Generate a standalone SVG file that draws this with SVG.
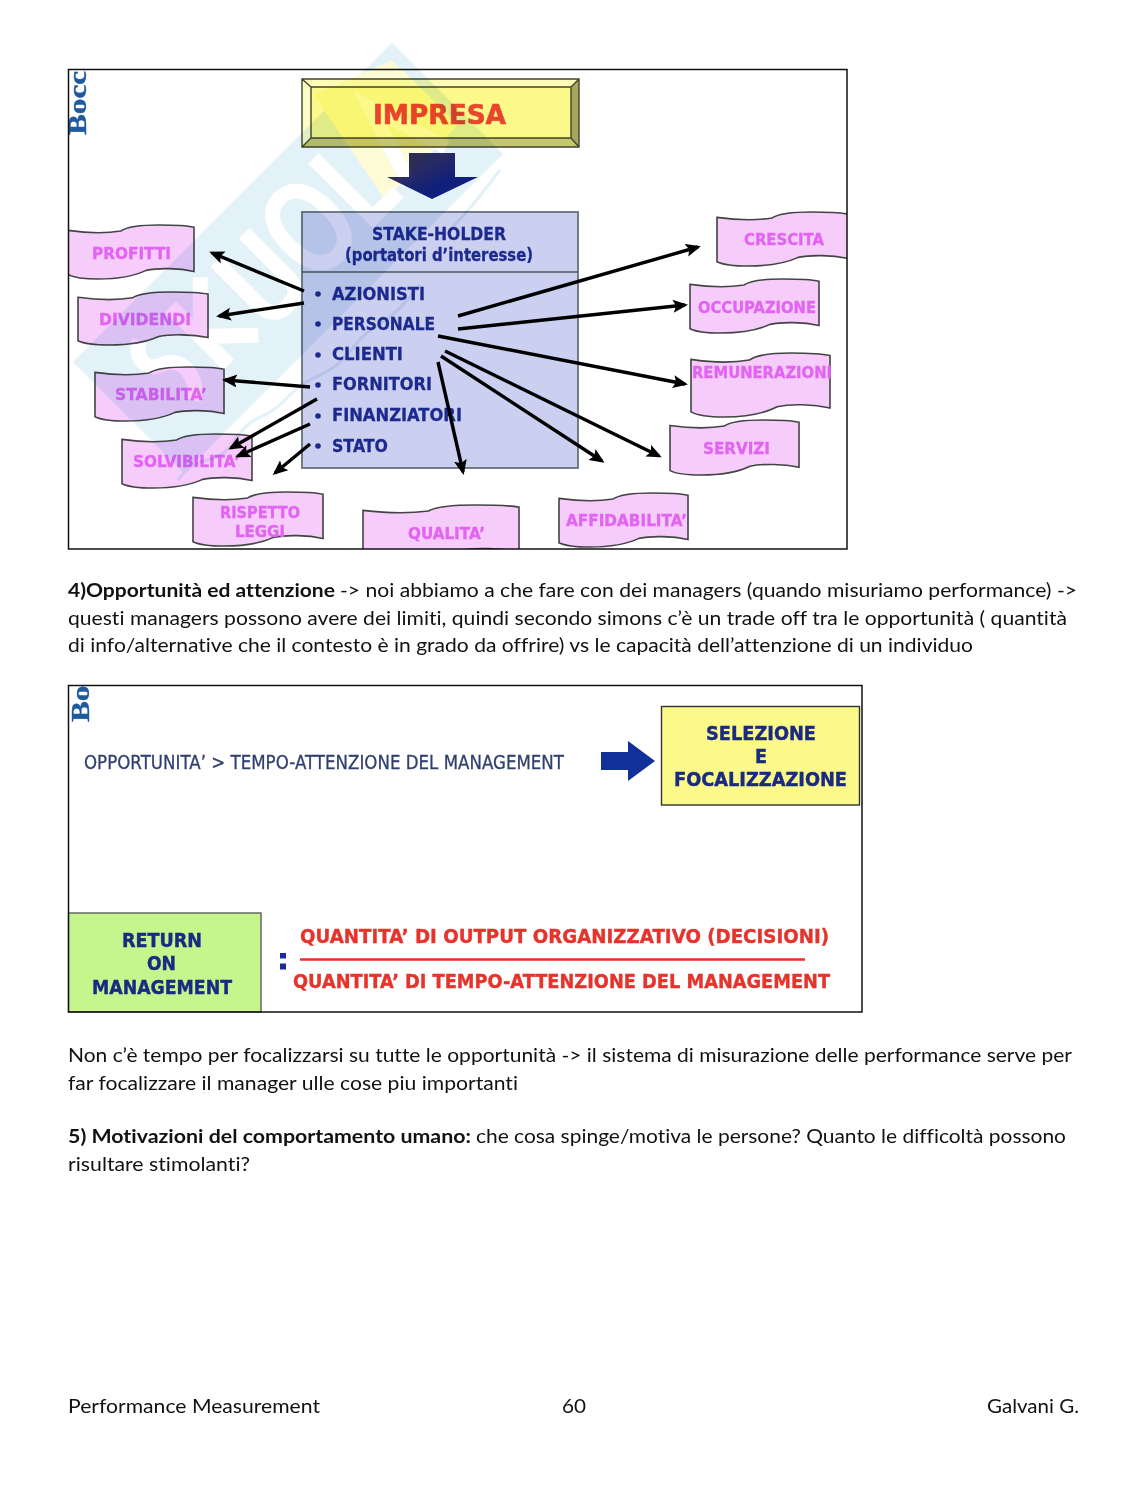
<svg xmlns="http://www.w3.org/2000/svg" width="1148" height="1485" viewBox="0 0 1148 1485">
<style>
.body{font-family:Lato,"Liberation Sans",sans-serif;font-size:19.5px;fill:#111;font-variant-ligatures:none}
.b{font-weight:700}
.s{font-family:"DejaVu Sans",Verdana,sans-serif;font-weight:700}
.flagt{font-size:16px;fill:#e264f2;stroke:#e264f2;stroke-width:.35px}
.navy{fill:#1c2a8e;font-size:17px;stroke:#1c2a8e;stroke-width:.3px}
.red{fill:#e5342c;font-size:19px;stroke:#e5342c;stroke-width:.4px}
.ret{fill:#1a2a80;font-size:19.500px;stroke:#1a2a80;stroke-width:.45px}
.logo{font-family:"Liberation Serif",serif;font-weight:700;font-size:26px;fill:#1e5aa0;stroke:#1e5aa0;stroke-width:.4px}
.conn line{stroke:#000;stroke-width:3.4;marker-end:url(#ah)}
.flag{fill:#f5ccfa;stroke:#444;stroke-width:1.6;vector-effect:non-scaling-stroke}
.frame{fill:none;stroke:#111;stroke-width:1.5}
</style>
<defs>
<marker id="ah" markerUnits="userSpaceOnUse" markerWidth="18" markerHeight="16" refX="12" refY="7" orient="auto"><path d="M0,0.500L15,7L0,13.500L3,7Z" fill="#000"/></marker>
<linearGradient id="dn" x1="0" y1="0" x2="1" y2="1"><stop offset="0.35" stop-color="#2c2c66"/><stop offset="0.65" stop-color="#10207e"/></linearGradient>
<path id="fl" class="flag" d="M0,10C18,16 32,15 42,11C47,3 58,0 72,0C84,0 94,1 100,4L100,86C88,80 72,79 62,84C54,93 40,100 24,100C14,100 5,98 0,92Z"/>
<clipPath id="c1"><rect x="68" y="69" width="779" height="480"/></clipPath>
<clipPath id="c2"><rect x="68" y="686" width="794" height="326"/></clipPath>
<mask id="wm" maskUnits="userSpaceOnUse" x="0" y="0" width="1148" height="600">
<rect width="1148" height="600" fill="#fff"/>
<g transform="translate(73,362) rotate(-45)" fill="none" stroke="#000" stroke-width="15">
<path d="M62,32C45,40 45,60 62,65C80,72 80,100 58,112"/>
<path d="M108,30V112M108,72L150,30M108,72L150,112"/>
<path d="M172,30V92Q172,112 192,112Q212,112 212,92V30"/>
<path d="M262,30Q235,32 235,71Q235,110 262,112Q289,110 289,71Q289,32 262,30Z"/>
<path d="M314,26V110H350"/>
<path d="M364,112L390,30L416,112"/>
</g>
</mask>
</defs>
<rect width="1148" height="1485" fill="#fff"/>

<g id="slide1-logo" clip-path="url(#c1)"><text class="logo" transform="translate(86,135) rotate(-90) scale(1.2,1)">Bocc</text></g>

<g id="impresa">
<rect x="302" y="79" width="277" height="68" fill="#fbf98a"/>
<path d="M302,79H579L571,87H311Z" fill="#fdfbb4"/>
<path d="M302,79L311,87V138L302,147Z" fill="#fdfdc8"/>
<path d="M579,79V147L571,138V87Z" fill="#a6a660"/>
<path d="M302,147H579L571,138H311Z" fill="#c6c670"/>
<path d="M302,79H579V147H302ZM311,87H571V138H311ZM302,79L311,87M579,79L571,87M302,147L311,138M579,147L571,138" fill="none" stroke="#44442a" stroke-width="1.4"/>
<text class="s" x="373" y="124" font-size="26" fill="#e8452c" stroke="#e8452c" stroke-width=".6" textLength="133" lengthAdjust="spacingAndGlyphs">IMPRESA</text>
</g>
<g id="down-arrow"><path d="M409,153H455V177H478L432,199L387,177H409Z" fill="url(#dn)"/></g>

<g id="stakeholder">
<rect x="302" y="212" width="276" height="256" fill="#cbcff0" stroke="#66727c" stroke-width="1.8"/>
<path d="M302,272H578" stroke="#4a5660" stroke-width="1.4"/>
<text class="s navy" x="372" y="240" textLength="134" lengthAdjust="spacingAndGlyphs">STAKE-HOLDER</text>
<text class="s navy" x="345" y="261" textLength="188" lengthAdjust="spacingAndGlyphs">(portatori d’interesse)</text>
<text class="s navy" x="332" y="300" textLength="93" lengthAdjust="spacingAndGlyphs">AZIONISTI</text>
<text class="s navy" x="332" y="330" textLength="103" lengthAdjust="spacingAndGlyphs">PERSONALE</text>
<text class="s navy" x="332" y="360" textLength="71" lengthAdjust="spacingAndGlyphs">CLIENTI</text>
<text class="s navy" x="332" y="390" textLength="100" lengthAdjust="spacingAndGlyphs">FORNITORI</text>
<text class="s navy" x="332" y="421" textLength="130" lengthAdjust="spacingAndGlyphs">FINANZIATORI</text>
<text class="s navy" x="332" y="452" textLength="56" lengthAdjust="spacingAndGlyphs">STATO</text>
<g fill="#1c2a8e"><circle cx="318" cy="294" r="2.8"/><circle cx="318" cy="324" r="2.8"/><circle cx="318" cy="355" r="2.8"/><circle cx="318" cy="385" r="2.8"/><circle cx="318" cy="416" r="2.8"/><circle cx="318" cy="446" r="2.8"/></g>
</g>

<g clip-path="url(#c1)">
<g id="flag-profitti"><use href="#fl" transform="translate(68,225) scale(1.26,.54)"/><text class="s flagt" x="92" y="259" textLength="79" lengthAdjust="spacingAndGlyphs">PROFITTI</text></g>
<g id="flag-dividendi"><use href="#fl" transform="translate(78,292) scale(1.3,.53)"/><text class="s flagt" x="99" y="325" textLength="92" lengthAdjust="spacingAndGlyphs">DIVIDENDI</text></g>
<g id="flag-stabilita"><use href="#fl" transform="translate(95,367) scale(1.29,.54)"/><text class="s flagt" x="115" y="400" textLength="92" lengthAdjust="spacingAndGlyphs">STABILITA’</text></g>
<g id="flag-solvibilita"><use href="#fl" transform="translate(122,434) scale(1.3,.54)"/><text class="s flagt" x="133" y="467" textLength="107" lengthAdjust="spacingAndGlyphs">SOLVIBILITA’</text></g>
<g id="flag-rispetto"><use href="#fl" transform="translate(193,492) scale(1.3,.54)"/><text class="s flagt" x="220" y="518" textLength="80" lengthAdjust="spacingAndGlyphs">RISPETTO</text><text class="s flagt" x="235" y="537" textLength="50" lengthAdjust="spacingAndGlyphs">LEGGI</text></g>
<g id="flag-qualita"><use href="#fl" transform="translate(363,505) scale(1.56,.54)"/><text class="s flagt" x="408" y="539" textLength="77" lengthAdjust="spacingAndGlyphs">QUALITA’</text></g>
<g id="flag-affidabilita"><use href="#fl" transform="translate(559,493) scale(1.29,.54)"/><text class="s flagt" x="566" y="526" textLength="121" lengthAdjust="spacingAndGlyphs">AFFIDABILITA’</text></g>
<g id="flag-servizi"><use href="#fl" transform="translate(670,420) scale(1.29,.55)"/><text class="s flagt" x="703" y="454" textLength="67" lengthAdjust="spacingAndGlyphs">SERVIZI</text></g>
<g id="flag-remunerazioni"><use href="#fl" transform="translate(691,353) scale(1.39,.64)"/><text class="s flagt" x="692" y="378" textLength="140" lengthAdjust="spacingAndGlyphs">REMUNERAZIONI</text></g>
<g id="flag-occupazione"><use href="#fl" transform="translate(690,279) scale(1.29,.54)"/><text class="s flagt" x="698" y="313" textLength="118" lengthAdjust="spacingAndGlyphs">OCCUPAZIONE</text></g>
<g id="flag-crescita"><use href="#fl" transform="translate(717,212) scale(1.31,.54)"/><text class="s flagt" x="744" y="245" textLength="80" lengthAdjust="spacingAndGlyphs">CRESCITA</text></g>
</g>

<g id="connectors" class="conn">
<line x1="304" y1="291" x2="212" y2="253"/>
<line x1="304" y1="303" x2="219" y2="316"/>
<line x1="310" y1="387" x2="225" y2="380"/>
<line x1="317" y1="399" x2="231" y2="448"/>
<line x1="310" y1="424" x2="238" y2="456"/>
<line x1="310" y1="444" x2="275" y2="473"/>
<line x1="458" y1="316" x2="698" y2="247"/>
<line x1="458" y1="329" x2="685" y2="305"/>
<line x1="438" y1="336" x2="685" y2="384"/>
<line x1="445" y1="351" x2="659" y2="456"/>
<line x1="441" y1="356" x2="602" y2="461"/>
<line x1="438" y1="362" x2="463" y2="472"/>
</g>

<g id="watermark" style="mix-blend-mode:multiply">
<path d="M73,362L392,43L503,154L184,473Z" fill="#e3f1f8" mask="url(#wm)"/>
<path d="M314,95L392,60L458,125L385,200Z" fill="#fdfcd6" mask="url(#wm)"/>
<path d="M178,480C200,450 215,470 235,440C255,410 262,425 290,395C315,370 330,380 355,345C375,320 385,330 420,285M440,240C455,225 470,210 500,170" fill="none" stroke="#e3f1f8" stroke-width="3"/>
</g>

<rect class="frame" x="68.500" y="69.500" width="778.500" height="479.500"/>

<g id="para1">
<text class="body b" x="68" y="597" textLength="267" lengthAdjust="spacingAndGlyphs">4)Opportunità ed attenzione</text>
<text class="body" x="340" y="597" textLength="737" lengthAdjust="spacingAndGlyphs">-&gt; noi abbiamo a che fare con dei managers (quando misuriamo performance) -&gt;</text>
<text class="body" x="68" y="625" textLength="999" lengthAdjust="spacingAndGlyphs">questi managers possono avere dei limiti, quindi secondo simons c’è un trade off tra le opportunità ( quantità</text>
<text class="body" x="68" y="652" textLength="905" lengthAdjust="spacingAndGlyphs">di info/alternative che il contesto è in grado da offrire) vs le capacità dell’attenzione di un individuo</text>
</g>

<g id="slide2-logo" clip-path="url(#c2)"><text class="logo" transform="translate(89,722) rotate(-90) scale(1.2,1)">Bo</text></g>
<g id="opportunita"><text x="84" y="769" font-family="DejaVu Sans, sans-serif" font-size="19" fill="#2f3f6f" stroke="#2f3f6f" stroke-width=".3" textLength="480" lengthAdjust="spacingAndGlyphs">OPPORTUNITA’ &gt; TEMPO-ATTENZIONE DEL MANAGEMENT</text></g>
<g id="blue-arrow"><path d="M601,752H628V741L655,761L628,781V770H601Z" fill="#10309a"/></g>
<g id="selezione">
<rect x="661.500" y="706.500" width="198" height="98.500" fill="#fbf98a" stroke="#333" stroke-width="1.4"/>
<text class="s ret" x="706" y="740" textLength="110" lengthAdjust="spacingAndGlyphs">SELEZIONE</text>
<text class="s ret" x="755" y="763" textLength="12" lengthAdjust="spacingAndGlyphs">E</text>
<text class="s ret" x="674" y="786" textLength="173" lengthAdjust="spacingAndGlyphs">FOCALIZZAZIONE</text>
</g>
<g id="return">
<rect x="68.500" y="913" width="192.500" height="99" fill="#c6f58e" stroke="#444" stroke-width="1.2"/>
<text class="s ret" x="122" y="947" textLength="80" lengthAdjust="spacingAndGlyphs">RETURN</text>
<text class="s ret" x="147" y="970" textLength="29" lengthAdjust="spacingAndGlyphs">ON</text>
<text class="s ret" x="92" y="994" textLength="140" lengthAdjust="spacingAndGlyphs">MANAGEMENT</text>
</g>
<g id="formula">
<path d="M280,953h6v5.500h-6zM280,963.500h6v6h-6z" fill="#1c2a9e"/>
<text class="s red" x="300" y="943" textLength="529" lengthAdjust="spacingAndGlyphs">QUANTITA’ DI OUTPUT ORGANIZZATIVO (DECISIONI)</text>
<path d="M300,959.500H805" stroke="#e83030" stroke-width="2.500"/>
<text class="s red" x="293" y="988" textLength="537" lengthAdjust="spacingAndGlyphs">QUANTITA’ DI TEMPO-ATTENZIONE DEL MANAGEMENT</text>
</g>
<rect class="frame" x="68.500" y="685.500" width="793.500" height="326.500"/>

<g id="para2">
<text class="body" x="68" y="1062" textLength="1004" lengthAdjust="spacingAndGlyphs">Non c’è tempo per focalizzarsi su tutte le opportunità -&gt; il sistema di misurazione delle performance serve per</text>
<text class="body" x="68" y="1090" textLength="450" lengthAdjust="spacingAndGlyphs">far focalizzare il manager ulle cose piu importanti</text>
</g>
<g id="para3">
<text class="body b" x="68" y="1143" textLength="403" lengthAdjust="spacingAndGlyphs">5) Motivazioni del comportamento umano:</text>
<text class="body" x="476" y="1143" textLength="590" lengthAdjust="spacingAndGlyphs">che cosa spinge/motiva le persone? Quanto le difficoltà possono</text>
<text class="body" x="68" y="1171" textLength="182" lengthAdjust="spacingAndGlyphs">risultare stimolanti?</text>
</g>
<g id="footer">
<text class="body" x="68" y="1413" textLength="252" lengthAdjust="spacingAndGlyphs">Performance Measurement</text>
<text class="body" x="562" y="1413" textLength="24" lengthAdjust="spacingAndGlyphs">60</text>
<text class="body" x="987" y="1413" textLength="92" lengthAdjust="spacingAndGlyphs">Galvani G.</text>
</g>
</svg>
